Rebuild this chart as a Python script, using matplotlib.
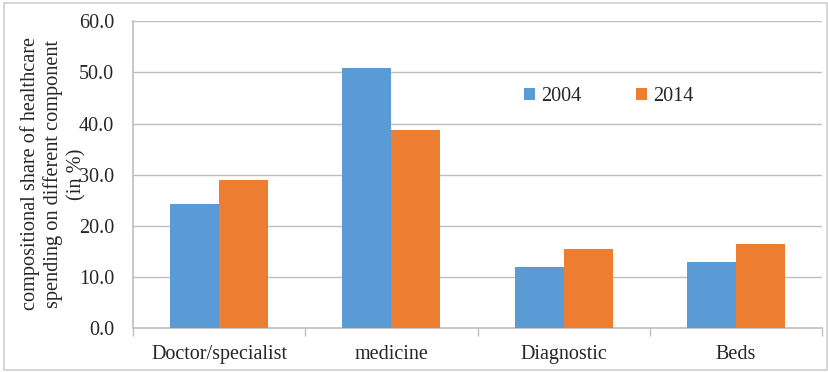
import numpy as np
import matplotlib.pyplot as plt
from matplotlib.patches import Rectangle

# data
categories = ['Doctor/specialist', 'medicine', 'Diagnostic', 'Beds']
share_2004 = [24.2, 50.8, 11.9, 13.0]
share_2014 = [29.0, 38.8, 15.5, 16.5]

blue = '#5B9BD5'
orange = '#ED7D31'
grid_col = '#BFBFBF'
text_col = '#262626'

plt.rcParams['font.family'] = ['Liberation Serif', 'DejaVu Serif']

fig = plt.figure(figsize=(8.29, 3.72), dpi=100)
ax = fig.add_axes([0.1604, 0.117, 0.8312, 0.8265])

x = np.arange(len(categories))
w = 0.285
ax.bar(x - w / 2, share_2004, w, color=blue, label='2004', zorder=3)
ax.bar(x + w / 2, share_2014, w, color=orange, label='2014', zorder=3)

ax.set_xlim(-0.5, len(categories) - 0.5)
ax.set_ylim(0, 60)
ax.set_yticks(np.arange(0, 61, 10))
ax.set_yticklabels([f'{v:.1f}' for v in np.arange(0, 61, 10)], fontsize=14.5, color=text_col)
ax.yaxis.grid(True, color=grid_col, linewidth=1.0, zorder=0)
ax.tick_params(axis='y', length=0, pad=13.5)

# category labels centered, ticks at category boundaries
ax.set_xticks(x)
ax.set_xticklabels(categories, fontsize=14.5, color=text_col)
ax.tick_params(axis='x', length=0, pad=12)
ax.set_xticks(np.arange(-0.5, len(categories)), minor=True)
ax.tick_params(axis='x', which='minor', length=6, color=grid_col, width=1)

for side in ['top', 'right']:
    ax.spines[side].set_visible(False)
ax.spines['left'].set_color(grid_col)
ax.spines['bottom'].set_color(grid_col)
ax.spines['left'].set_linewidth(1.2)
ax.spines['bottom'].set_linewidth(1.2)

# y label written as figure text so it can sit over the tick labels
fig.text(53 / 829, 1 - 174 / 372,
         'compositional share of healthcare\nspending on different component\n(in %)',
         rotation=90, ha='center', va='center', multialignment='center',
         fontsize=14.6, color=text_col, linespacing=1.25)

ax.legend(loc='center', bbox_to_anchor=(0.69, 0.755), ncol=2, frameon=False,
          fontsize=14.5, handlelength=0.55, handleheight=0.55, handletextpad=0.3,
          columnspacing=2.7, labelcolor=text_col)

# light outer frame
fig.patches.append(Rectangle((0.005, 0.006), 0.992, 0.986, transform=fig.transFigure,
                             fill=False, edgecolor='#D0D0D0', linewidth=1.2))

fig.savefig('out.png', dpi=100)
